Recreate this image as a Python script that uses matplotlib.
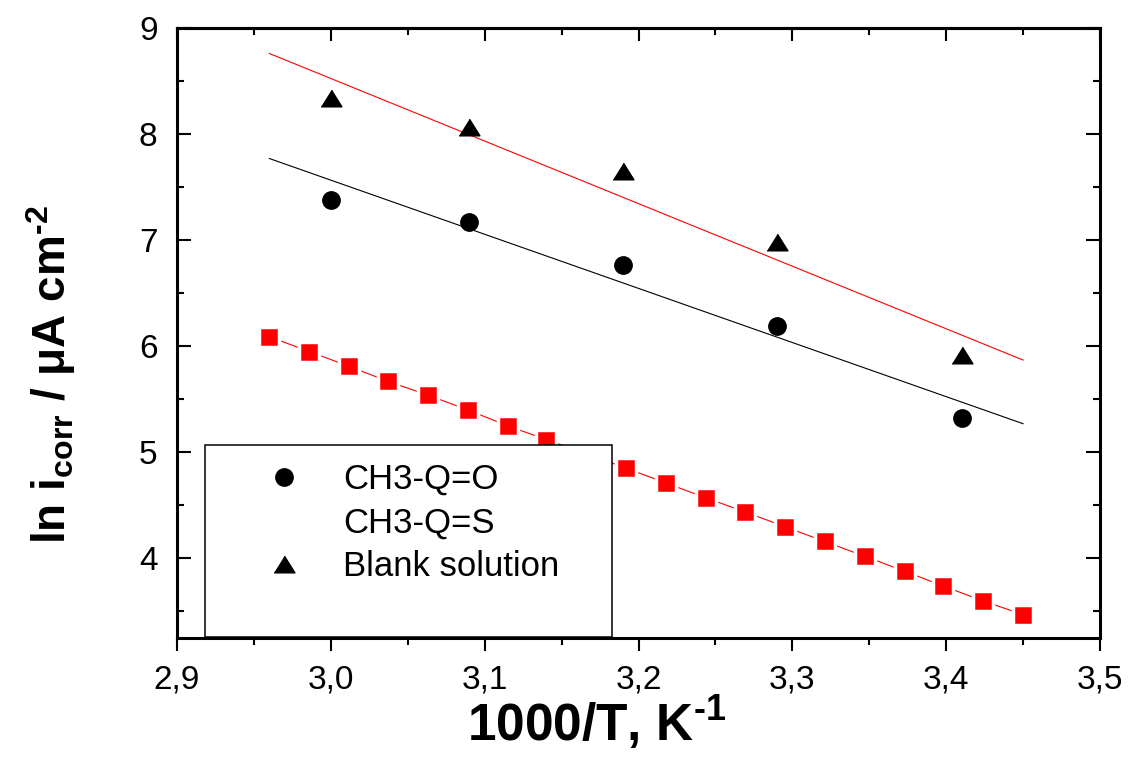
import matplotlib
matplotlib.use("Agg")
import matplotlib.pyplot as plt
from matplotlib.lines import Line2D
from matplotlib.patches import Rectangle
from matplotlib.ticker import MultipleLocator, FuncFormatter

plt.rcParams['font.family'] = ['Liberation Sans', 'DejaVu Sans']
plt.rcParams['mathtext.fontset'] = 'custom'
plt.rcParams['mathtext.rm'] = 'Liberation Sans:bold'
plt.rcParams['mathtext.bf'] = 'Liberation Sans:bold'
plt.rcParams['mathtext.default'] = 'bf'

# ---- data ----
x_o = [3.00, 3.09, 3.19, 3.29, 3.41]
y_o = [7.38, 7.17, 6.77, 6.19, 5.32]
fit_o_x = [2.96, 3.45]
fit_o_y = [7.77, 5.27]

x_blank = [3.00, 3.09, 3.19, 3.29, 3.41]
y_blank = [8.34, 8.07, 7.65, 6.98, 5.92]
fit_blank_x = [2.96, 3.45]
fit_blank_y = [8.76, 5.87]

x_s = [2.960, 2.986, 3.012, 3.037, 3.063, 3.089, 3.115, 3.140, 3.166, 3.192,
       3.218, 3.244, 3.269, 3.295, 3.321, 3.347, 3.373, 3.398, 3.424, 3.450]
y_s = [6.09, 5.95, 5.81, 5.67, 5.54, 5.40, 5.25, 5.12, 4.99, 4.85,
       4.71, 4.57, 4.44, 4.30, 4.16, 4.02, 3.88, 3.74, 3.60, 3.47]

labels = ['CH3-Q=O', 'CH3-Q=S', 'Blank solution']

fig = plt.figure(figsize=(11.28, 7.61), dpi=100)
ax = fig.add_axes([177/1128, 1-638/761, (1100-177)/1128, (638-28)/761])

ax.plot(fit_blank_x, fit_blank_y, color='#ff0000', lw=0.8, zorder=2)
ax.plot(fit_o_x, fit_o_y, color='black', lw=0.8, zorder=2)
ax.plot(x_s, y_s, color='#ff0000', lw=0.8, marker='s', ms=15, mfc='#ff0000',
        mec='white', mew=2.5, zorder=3)
h_o, = ax.plot(x_o, y_o, ls='none', marker='o', ms=12.5, color='black', zorder=3)
tri = [(-1, -0.8), (1, -0.8), (0, 0.8)]
h_b, = ax.plot(x_blank, y_blank, ls='none', marker=tri, ms=15, color='black', zorder=3)

ax.set_xlim(2.9, 3.5)
ax.set_ylim(3.25, 9.0)

ax.xaxis.set_major_locator(MultipleLocator(0.1))
ax.xaxis.set_minor_locator(MultipleLocator(0.05))
ax.yaxis.set_major_locator(MultipleLocator(1))
ax.yaxis.set_minor_locator(MultipleLocator(0.5))
ax.xaxis.set_major_formatter(FuncFormatter(lambda v, p: f"{v:.1f}".replace('.', ',')))
ax.yaxis.set_major_formatter(FuncFormatter(lambda v, p: f"{v:.0f}"))

for s in ax.spines.values():
    s.set_linewidth(2.2)

ax.tick_params(axis='x', which='both', direction='out', bottom=True, top=False,
               width=1.5, labelsize=24, pad=10)
ax.tick_params(axis='x', which='major', length=9)
ax.tick_params(axis='x', which='minor', length=5)
ax.tick_params(axis='y', which='both', direction='in', left=True, right=True,
               width=1.5, labelsize=24, pad=14)
ax.tick_params(axis='y', which='major', length=10)
ax.tick_params(axis='y', which='minor', length=5)

sec = ax.secondary_xaxis('top')
sec.xaxis.set_major_locator(MultipleLocator(0.1))
sec.xaxis.set_minor_locator(MultipleLocator(0.05))
sec.tick_params(axis='x', which='both', direction='in', width=1.5, labeltop=False)
sec.tick_params(axis='x', which='major', length=9)
sec.tick_params(axis='x', which='minor', length=5)
sec.spines['top'].set_linewidth(2.2)

ax.set_xlabel(r'1000/T, K$^{\text{-1}}$', fontsize=37, fontweight='bold')
ax.xaxis.set_label_coords(0.455, -0.092)
ax.set_ylabel(r'ln i$_{corr}$ / $\mu$A cm$^{\text{-2}}$', fontsize=33, fontweight='bold')
ax.yaxis.set_label_coords(-0.107, 0.431)

# legend box
ax.add_patch(Rectangle((28/923, 1/610), 407/923, 192/610, transform=ax.transAxes,
                       facecolor='white', edgecolor='black', lw=1.1, zorder=5))
h_empty = Line2D([], [], ls='none', marker=None)
h_lo = Line2D([], [], ls='none', marker='o', ms=12.5, color='black')
h_lb = Line2D([], [], ls='none', marker=tri, ms=15, color='black')
leg = ax.legend([h_lo, h_empty, h_lb], labels, loc='upper left',
                bbox_to_anchor=((267-177)/923, (638-463)/610),
                frameon=False, fontsize=25, borderpad=0, borderaxespad=0,
                handlelength=1.0, handletextpad=1.2, labelspacing=0.3)
leg.set_zorder(6)

fig.savefig('out.png', dpi=100)
